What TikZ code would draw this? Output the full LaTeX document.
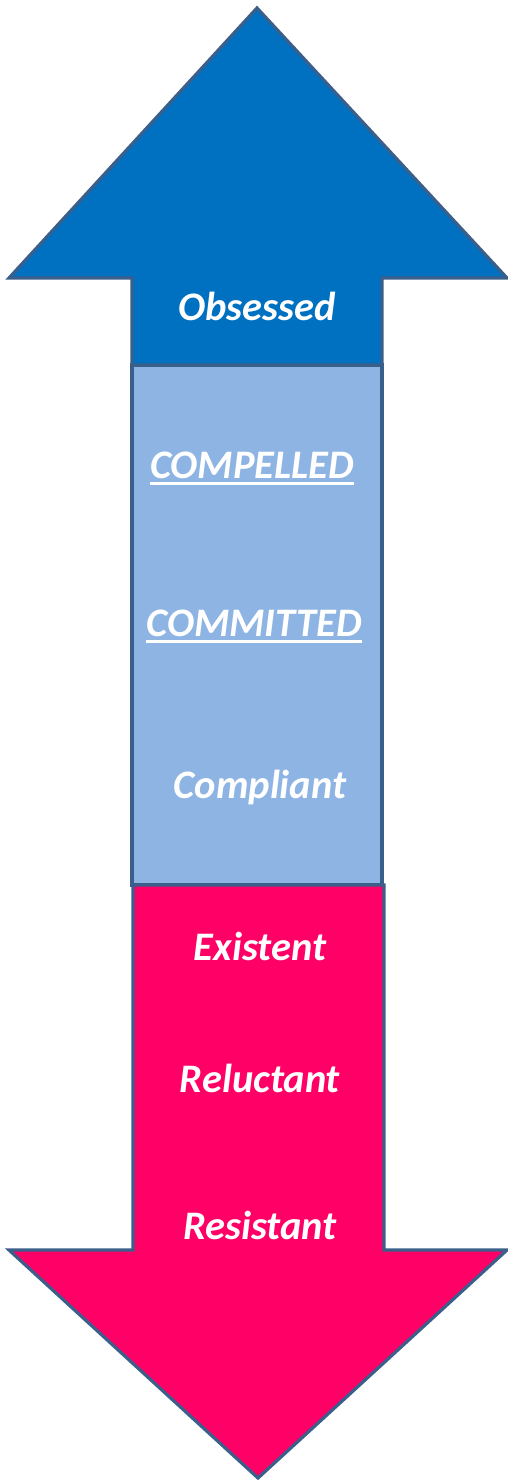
\documentclass[tikz,border=0pt]{standalone}
\usepackage{fontspec}
\setmainfont{Carlito}
\newcommand{\ulword}[1]{\vtop{\hbox{#1}\kern4pt\hrule height 2.8pt}}
\definecolor{edgeblue}{HTML}{3A5F8B}
\definecolor{darkband}{HTML}{0070C0}
\definecolor{lightband}{HTML}{8EB4E3}
\definecolor{pinkband}{HTML}{FF0066}
\tikzset{
  band/.style={draw=edgeblue, line width=3.2pt, line join=miter},
  word/.style={text=white, font=\fontsize{40.5}{46}\selectfont\bfseries\itshape}
}
\begin{document}
\begin{tikzpicture}[x=1pt, y=-1pt]
  \useasboundingbox (0,0) rectangle (508,1481);
  % up arrow and the middle band
  \draw[band, fill=lightband] (132,365) rectangle (382,885);
  \draw[band, fill=darkband] (257,8) -- (507,278) -- (382,278) -- (382,365)
    -- (132,365) -- (132,278) -- (9,278) -- cycle;
  % down arrow
  \draw[band, fill=pinkband] (133,885) -- (384,885) -- (384,1250) -- (507,1250)
    -- (258,1478) -- (9,1250) -- (133,1250) -- cycle;
  \node[word] (obsessed) at (257,306) {Obsessed};
  \node[word, anchor=base] (compelled) at (252,478) {\ulword{COMPELLED}};
  \node[word, anchor=base] (committed) at (254,636) {\ulword{COMMITTED}};
  \node[word] (compliant) at (260,787) {Compliant};
  \node[word] (existent) at (260,946) {Existent};
  \node[word] (reluctant) at (260,1078) {Reluctant};
  \node[word] (resistant) at (260,1225) {Resistant};
\end{tikzpicture}
\end{document}
